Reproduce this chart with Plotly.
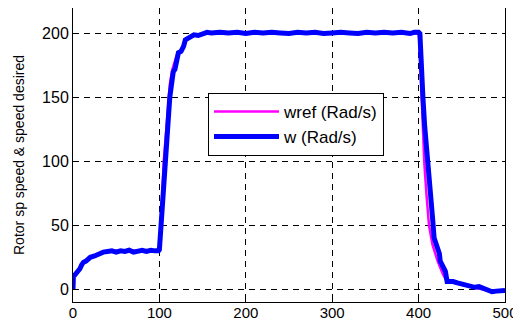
import plotly.graph_objects as go

# measured speed w (Rad/s)
t_w = [0, 0.5, 2, 5, 8, 10, 12, 15, 18, 20, 25, 30, 35, 40, 45, 50, 55, 60, 65, 70,
       75, 80, 85, 90, 95, 99, 100, 102, 104, 106, 108, 110, 112, 114, 116, 118,
       120, 122, 125, 128, 130, 133, 136, 140, 145, 150, 155,
       160, 170, 180, 190, 200, 210, 220, 230, 240, 250, 260, 270, 280, 290,
       300, 310, 320, 330, 340, 350, 360, 370, 380, 390, 395, 400,
       401.5, 403, 405, 407, 410, 413, 416, 418, 420, 422, 424, 425, 428, 431, 433,
       440, 445, 450, 455, 460, 465, 470, 475, 480, 485, 490, 495, 500]
w = [0, 10, 11, 13, 16, 19, 21, 22, 24, 25, 26, 28, 29, 29.5, 30, 29, 30, 29.5, 30.5, 29,
     30, 30.5, 29.5, 30.5, 30, 30, 31, 50, 75, 100, 120, 135, 150, 160, 170, 172,
     182, 185, 186, 190, 195, 196, 197, 199, 198.5, 200, 201,
     200.5, 201, 200.5, 201, 200, 201, 200.5, 201, 200.5, 200, 201, 200.5, 201, 200,
     200.5, 201, 200.5, 200, 201, 200.5, 201, 200.5, 201, 200, 201, 201,
     200, 171, 150, 128, 100, 80, 57, 40, 36, 32, 28, 22, 18, 14, 6,
     6, 5, 4, 3, 3, 1.5, 2, 1, -1, -2, -1.5, -1, -1]

# reference speed wref (Rad/s)
t_ref = [0, 1, 5, 10, 15, 20, 30, 40, 50, 100, 101, 103, 105, 108, 110, 112, 115,
         120, 125, 130, 140, 150, 400, 401, 403, 406.5, 409, 412, 416, 422, 428, 433,
         440, 450, 460, 470, 480, 490, 500]
wref = [0, 10, 13, 19, 22, 25, 28, 29.5, 30, 30, 40, 70, 100, 125, 145, 160, 172,
        183, 187, 195, 199, 200, 200, 195, 160, 100, 75, 50, 35, 22, 12, 6,
        5, 3.5, 2, 1, -1, -1.5, -1]

x_ticks = [0, 100, 200, 300, 400, 500]
y_ticks = [0, 50, 100, 150, 200]

FONT = "Liberation Sans, Arial, sans-serif"

fig = go.Figure()
fig.add_trace(go.Scatter(x=t_ref, y=wref, mode="lines", name="wref (Rad/s)",
                         line=dict(color="#ff00ff", width=2.5)))
fig.add_trace(go.Scatter(x=t_w, y=w, mode="lines", name="w (Rad/s)",
                         line=dict(color="#0000ff", width=5)))

axis_common = dict(showline=True, linecolor="black", linewidth=1, mirror=True,
                   showgrid=True, gridcolor="black", gridwidth=1, griddash="6px,5px",
                   zeroline=False, ticks="inside", ticklen=5, tickcolor="black",
                   automargin=False)

fig.update_xaxes(range=[0, 500], tickvals=x_ticks, ticklabelstandoff=-3,
                 tickfont=dict(family=FONT, size=15, color="black"), **axis_common)
fig.update_yaxes(range=[-10, 220], tickvals=y_ticks,
                 tickfont=dict(family=FONT, size=16, color="black"),
                 title=dict(text="Rotor sp speed & speed desired",
                            font=dict(family=FONT, size=14, color="black"),
                            standoff=14),
                 **axis_common)

# page body has an 8px margin; figure is offset by (8, 8)
fig.update_layout(
    width=513, height=314,
    margin=dict(l=65, r=16, t=0, b=20),
    paper_bgcolor="white", plot_bgcolor="white",
    showlegend=True,
    legend=dict(x=0.3125, y=0.711, xanchor="left", yanchor="top",
                bgcolor="white", bordercolor="black", borderwidth=1,
                font=dict(family=FONT, size=17, color="black"),
                itemwidth=65, tracegroupgap=0),
)

fig.write_html("out.html")
